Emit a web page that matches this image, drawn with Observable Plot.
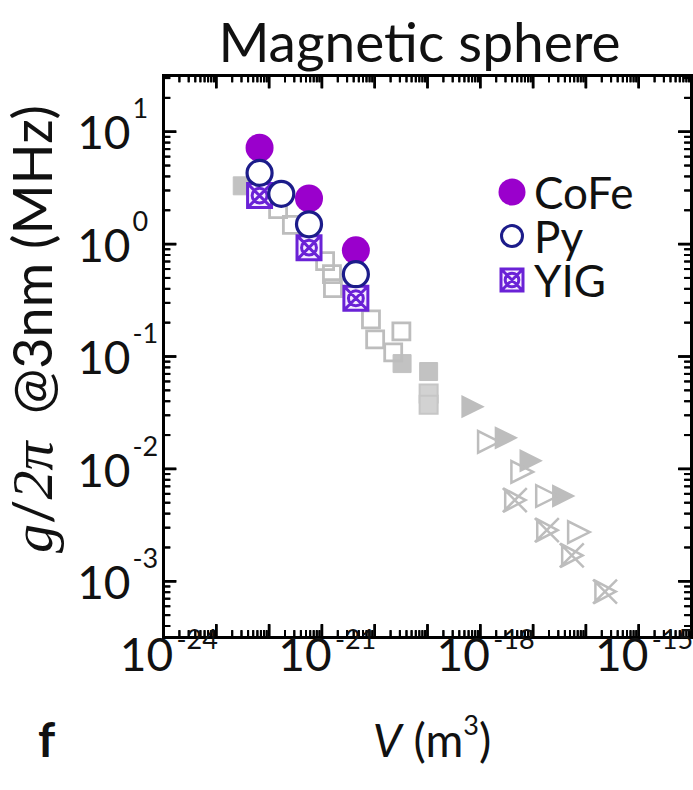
<!DOCTYPE html>
<html><head><meta charset="utf-8">
<script src="https://cdn.jsdelivr.net/npm/d3@7"></script>
<script src="https://cdn.jsdelivr.net/npm/@observablehq/plot@0.6"></script>
<style>
body{margin:0;background:#fff;font-family:Lato,"Open Sans",sans-serif;color:#111;}
#wrap{position:relative;width:693px;height:790px;overflow:hidden;background:#fff;}
#chart svg{display:block;}
.abs{position:absolute;white-space:nowrap;}
#title{left:0;top:0;height:72px;line-height:82px;font-size:55px;text-align:center;padding-left:146px;box-sizing:border-box;width:693px;}
#ylab{left:33px;top:329px;transform:translate(-50%,-50%) rotate(-90deg);font-size:54px;line-height:1;}
#ylab i{font-family:"Liberation Serif",serif;font-size:58px;}
#xlab{left:432px;top:740px;transform:translate(-50%,-50%);font-size:46px;line-height:1;}
#xlab sup{font-size:27px;vertical-align:0;position:relative;top:-22px;}
#flab{left:38px;top:715px;font-size:48px;font-weight:bold;line-height:1;}
#legend{left:497px;top:170px;font-size:44px;}
.lrow{display:flex;align-items:center;height:44px;}
.lrow span{display:inline-block;height:38px;line-height:38px;}
.lrow svg{margin-right:7px;}
</style></head>
<body><div id="wrap">
<div id="chart"></div>
<div id="title" class="abs">Magnetic sphere</div>
<div id="ylab" class="abs"><i>g</i>/<i>2π</i>&nbsp;&nbsp;@3nm (MHz)</div>
<div id="xlab" class="abs"><i>V</i> (m<sup>3</sup>)</div>
<div id="flab" class="abs">f</div>
<div id="legend" class="abs"></div>
</div>
<script>
// ---------- data (V in m^3, g/2π in MHz) ----------
const cofeV = [6.6e-23, 5.7e-22, 4.4e-21];
const cofeG = [7.2, 2.55, 0.88];
const pyV = [6.6e-23, 1.7e-22, 5.7e-22, 4.4e-21];
const pyG = [4.3, 2.8, 1.5, 0.54];
const yigV = [6.6e-23, 5.7e-22, 4.4e-21];
const yigG = [2.7, 0.93, 0.33];
// grey reference data
const sqOpenV = [1.48e-22, 2.7e-22, 1.15e-21, 1.55e-21, 1.62e-21, 8.5e-21, 3.2e-20, 1.02e-20, 2.24e-20];
const sqOpenG = [2.05, 1.48, 0.705, 0.54, 0.405, 0.214, 0.167, 0.142, 0.109];
const sqFillV = [3.1e-23, 3.3e-20, 1.05e-19];
const sqFillG = [3.3, 0.0865, 0.0735];
const sqLightV = [1.05e-19, 1.05e-19];
const sqLightG = [0.0468, 0.0372];
const triFillV = [6.9e-19, 2.95e-18, 8.7e-18, 3.6e-17];
const triFillG = [0.0358, 0.0189, 0.0118, 0.00574];
const triOpenV = [1.38e-18, 5.9e-18, 1.74e-17, 7.0e-17];
const triOpenG = [0.0174, 0.0094, 0.00574, 0.00274];
const crossV = [4.5e-18, 1.82e-17, 5.4e-17, 2.3e-16];
const crossG = [0.00528, 0.00285, 0.0017, 0.00081];
// axis labels (exponents)
const xLabelExp = [-24, -21, -18, -15];
const yLabelExp = [1, 0, -1, -2, -3];

const colCoFe = "#9a00cc", colPy = "#1c1c8a", colYIG = "#6a22d6", grey = "#bdbdbd";

const pts = (V, G) => V.map((v, i) => ({v, g: G[i]}));

// ---------- symbols ----------
const rad = s => Math.sqrt(s / Math.PI);
const triRight = {draw(c, s){const r = rad(s); c.moveTo(r, 0); c.lineTo(-0.8*r, -0.9*r); c.lineTo(-0.8*r, 0.9*r); c.closePath();}};
const triCross = {draw(c, s){const r = rad(s); c.moveTo(r*0.9, 0); c.lineTo(-0.8*r, -0.9*r); c.lineTo(-0.8*r, 0.9*r); c.closePath();
  c.moveTo(-r, -r); c.lineTo(r, r); c.moveTo(r, -r); c.lineTo(-r, r);}};
const yigSym = {draw(c, s){const r = rad(s); c.rect(-r, -r, 2*r, 2*r); c.moveTo(-r, -r); c.lineTo(r, r); c.moveTo(r, -r); c.lineTo(-r, r);
  c.moveTo(0.62*r, 0); c.arc(0, 0, 0.62*r, 0, 2*Math.PI);}};
const sq = {draw(c, s){const r = rad(s); c.rect(-r, -r, 2*r, 2*r);}};
// tick symbols: a line of length r starting at the anchor point
const tUp = {draw(c, s){const l = rad(s); c.moveTo(0, 0); c.lineTo(0, -l);}};
const tDown = {draw(c, s){const l = rad(s); c.moveTo(0, 0); c.lineTo(0, l);}};
const tRight = {draw(c, s){const l = rad(s); c.moveTo(0, 0); c.lineTo(l, 0);}};
const tLeft = {draw(c, s){const l = rad(s); c.moveTo(0, 0); c.lineTo(-l, 0);}};

// ---------- axis settings and tick values ----------
const xLo = 1e-24, xHi = 1e-14;
const yLo = 10 ** -3.5, yHi = 10 ** 1.5;
const xMajorTicks = d3.range(-24, -13).map(e => 10 ** e);
const xMinorTicks = d3.range(-24, -14).flatMap(e => d3.range(2, 10).map(m => m * 10 ** e));
const yMajorTicks = d3.range(-3, 2).map(e => 10 ** e);
const yMinorTicks = d3.range(-4, 2).flatMap(e => d3.range(2, 10).map(m => m * 10 ** e)).filter(v => v > yLo && v < yHi);

const chartW = 693, chartH = 790, mL = 163, mR = 2, mT = 75, mB = 153;
const frameW = chartW - mL - mR, frameH = chartH - mT - mB;
const majLen = 13, minLen = 7;

const tickDots = (xs, ys, len, sw) => [
  Plot.dot(xs, {x: d => d, y: () => yLo, symbol: tUp, r: len, fill: "none", stroke: "black", strokeWidth: sw}),
  Plot.dot(xs, {x: d => d, y: () => yHi, symbol: tDown, r: len, fill: "none", stroke: "black", strokeWidth: sw}),
  Plot.dot(ys, {y: d => d, x: () => xLo, symbol: tRight, r: len, fill: "none", stroke: "black", strokeWidth: sw}),
  Plot.dot(ys, {y: d => d, x: () => xHi, symbol: tLeft, r: len, fill: "none", stroke: "black", strokeWidth: sw})
];
const tickRules = (xs, ys, len, sw) => [
  Plot.ruleX(xs, {x: d => d, insetTop: frameH - len, stroke: "black", strokeWidth: sw}),
  Plot.ruleX(xs, {x: d => d, insetBottom: frameH - len, stroke: "black", strokeWidth: sw}),
  Plot.ruleY(ys, {y: d => d, insetRight: frameW - len, stroke: "black", strokeWidth: sw}),
  Plot.ruleY(ys, {y: d => d, insetLeft: frameW - len, stroke: "black", strokeWidth: sw})
];

const chart = Plot.plot({
  width: chartW, height: chartH,
  marginLeft: mL, marginRight: mR, marginTop: mT, marginBottom: mB,
  x: {type: "log", domain: [xLo, xHi], axis: null},
  y: {type: "log", domain: [yLo, yHi], axis: null},
  style: {fontFamily: "Lato, 'Open Sans', sans-serif"},
  marks: [
    // grey reference data
    Plot.dot(pts(sqFillV, sqFillG), {x: "v", y: "g", symbol: sq, r: 9, fill: "#c2c2c2", stroke: "#c2c2c2", strokeWidth: 1}),
    Plot.dot(pts(sqLightV, sqLightG), {x: "v", y: "g", symbol: sq, r: 9, fill: "#d2d2d2", stroke: "#c6c6c6", strokeWidth: 2}),
    Plot.dot(pts(sqOpenV, sqOpenG), {x: "v", y: "g", symbol: sq, r: 8.5, fill: "none", stroke: grey, strokeWidth: 2.8}),
    Plot.dot(pts(triFillV, triFillG), {x: "v", y: "g", symbol: triRight, r: 13, fill: "#bdbdbd", stroke: "none"}),
    Plot.dot(pts(triOpenV, triOpenG), {x: "v", y: "g", symbol: triRight, r: 12, fill: "none", stroke: grey, strokeWidth: 2.5}),
    Plot.dot(pts(crossV, crossG), {x: "v", y: "g", symbol: triCross, r: 12, fill: "none", stroke: grey, strokeWidth: 2.5}),
    // magnetic spheres
    Plot.dot(pts(cofeV, cofeG), {x: "v", y: "g", r: 14, fill: colCoFe, stroke: "none"}),
    Plot.dot(pts(yigV, yigG), {x: "v", y: "g", symbol: yigSym, r: 12, fill: "#f6ecff", stroke: colYIG, strokeWidth: 3}),
    Plot.dot(pts(pyV, pyG), {x: "v", y: "g", r: 12.5, fill: "#fff", stroke: colPy, strokeWidth: 3.2}),
    // inward ticks on all four sides
    ...tickRules(xMinorTicks, yMinorTicks, minLen, 2),
    ...tickRules(xMajorTicks, yMajorTicks, majLen, 2.5),
    ...tickDots(xMinorTicks, yMinorTicks, minLen, 2),
    ...tickDots(xMajorTicks, yMajorTicks, majLen, 2.5),
    Plot.frame({stroke: "black", strokeWidth: 3}),
    // tick labels
    Plot.text(xLabelExp, {x: e => 10 ** e, frameAnchor: "bottom", text: () => "10", dx: -17, dy: 33, fontSize: 46, textAnchor: "middle", fill: "#111"}),
    Plot.text(xLabelExp, {x: e => 10 ** e, frameAnchor: "bottom", text: e => String(e), dx: 13, dy: 11, fontSize: 27, textAnchor: "start", fill: "#111"}),
    Plot.text(yLabelExp, {y: e => 10 ** e, frameAnchor: "left", text: () => "10", dx: -33, dy: 3, fontSize: 46, textAnchor: "end", fill: "#111"}),
    Plot.text(yLabelExp, {y: e => 10 ** e, frameAnchor: "left", text: e => String(e), dx: -31, dy: -22, fontSize: 27, textAnchor: "start", fill: "#111"})
  ]
});
document.getElementById("chart").appendChild(chart);

// ---------- legend ----------
const yigPath = (() => {const p = d3.path(); yigSym.draw(p, Math.PI * 11 * 11); return p.toString();})();
const legendItems = [
  {label: "CoFe", svg: `<svg width="30" height="30" viewBox="-15 -15 30 30"><circle r="13.5" fill="${colCoFe}"/></svg>`},
  {label: "Py", svg: `<svg width="30" height="30" viewBox="-15 -15 30 30"><circle r="10.5" fill="#fff" stroke="${colPy}" stroke-width="3"/></svg>`},
  {label: "YIG", svg: `<svg width="30" height="30" viewBox="-15 -15 30 30"><path d="${yigPath}" fill="#f6ecff" stroke="${colYIG}" stroke-width="3"/></svg>`}
];
document.getElementById("legend").innerHTML = legendItems.map(d => `<div class="lrow">${d.svg}<span>${d.label}</span></div>`).join("");
</script>
</body></html>
